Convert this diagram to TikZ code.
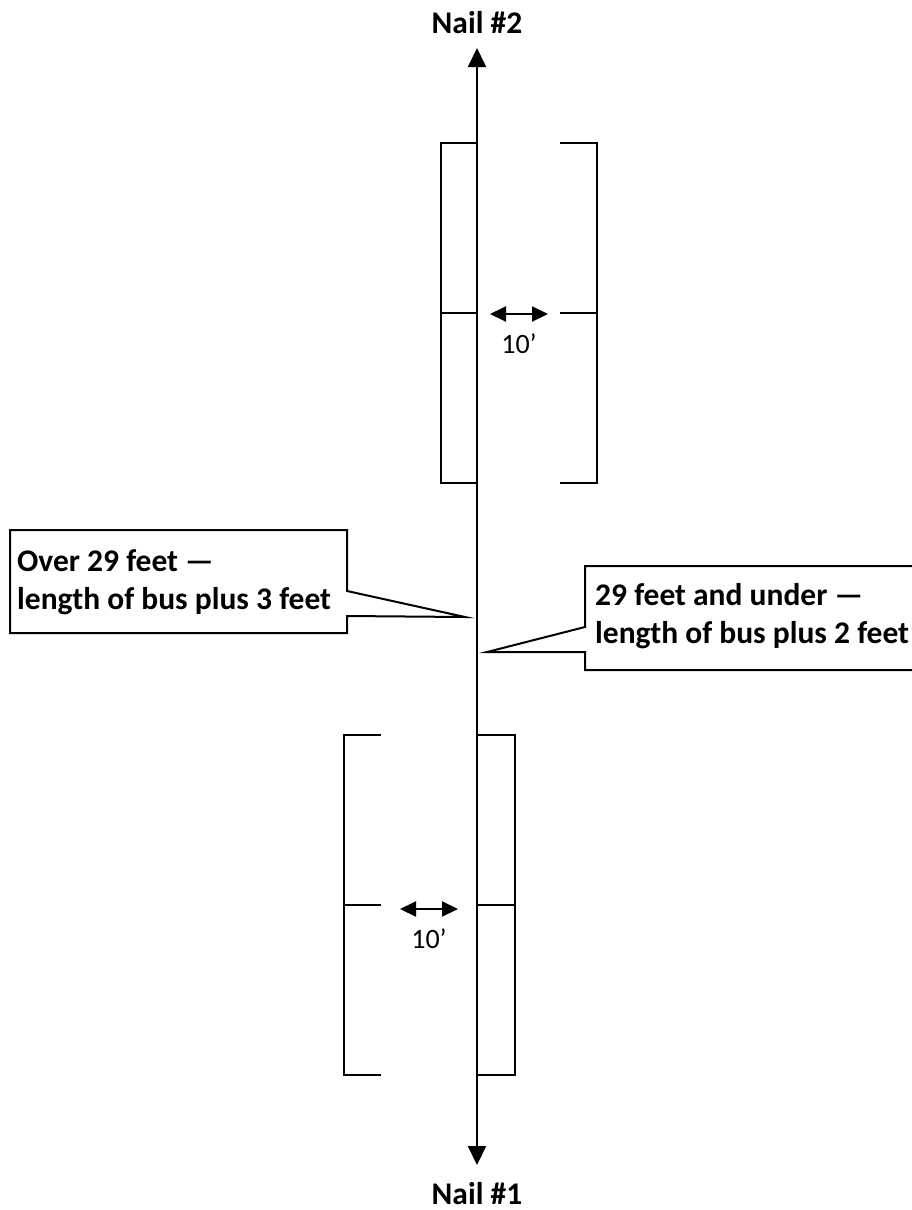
\documentclass[tikz,border=0pt]{standalone}
\usepackage{fontspec}
\setmainfont{Carlito}
\usetikzlibrary{arrows.meta}

\newcommand{\stall}[4]{
  \draw[line width=\lw] (\xm, #4 - \Hy) rectangle (#1, #4 + \Hy);
  \draw[line width=\lw] (\xm, #4) -- (#1, #4);
  \draw[line width=\lw] (#3, #4 - \Hy) -- (#2, #4 - \Hy) 
    -- (#2, #4 + \Hy) -- (#3, #4 + \Hy);
  \draw[line width=\lw] (#3, #4) -- (#2, #4);
}
\newcommand{\gap}[4]{
  \draw[line width=\lw, {Triangle[length=16pt, width=15pt]}-{Triangle[length=16pt, width=15pt]}]
    (#1, #3) -- (#2, #3)
  node[midway, anchor=base, yshift=-39pt, font=\fontsize{28}{34}\selectfont, inner sep=0pt] (#4) {10’};
}

\begin{document}
\begin{tikzpicture}[x=1pt, y=-1pt,
  nail/.style={font=\fontsize{31.5}{38}\selectfont\bfseries, inner sep=0pt, anchor=base},
  calltext/.style={font=\fontsize{31.5}{38}\selectfont\bfseries, align=left, inner sep=0pt}]
  % Size
  \pgfmathsetmacro{\lw}{2}
  \pgfmathsetmacro{\Hy}{170}

  % Positioning
  \pgfmathsetmacro{\xm}{477}

  \path[use as bounding box, clip] (0, 0) rectangle (912, 1210);

  % Nails
  \node[nail] (nail2) at (\xm, 33) {Nail \#2};
  \node[nail] (nail1) at (\xm, 1204) {Nail \#1};
  \coordinate (top) at (\xm, 48);
  \coordinate (bottom) at (\xm, 1165);
  \draw[line width=\lw, {Triangle[length=19pt, width=18pt]}-{Triangle[length=19pt, width=18pt]}]
    (bottom) -- (top);

  % Stalls
  \stall{441}{597}{560}{313}
  \stall{515}{344}{381}{905}

  % Gaps
  \gap{490}{548}{314}{gapup}
  \gap{400}{458}{909}{gapdown}

  % Callouts
  \draw[line width=\lw] (10, 530) -- (347, 530) -- (347, 591) -- (465, 617) 
    -- (347, 616) -- (347, 633) -- (10, 633) -- cycle;
  \node[calltext, anchor=base west] (over) at (17, 609) 
    {Over 29 feet —\\length of bus plus 3 feet};

  \draw[line width=\lw] (930, 566) -- (585, 566) -- (585, 627) -- (487, 652) 
    -- (585, 652) -- (585, 670) -- (930, 670);
  \node[calltext, anchor=base west] (under) at (595, 643) 
    {29 feet and under —\\length of bus plus 2 feet};
\end{tikzpicture}
\end{document}
